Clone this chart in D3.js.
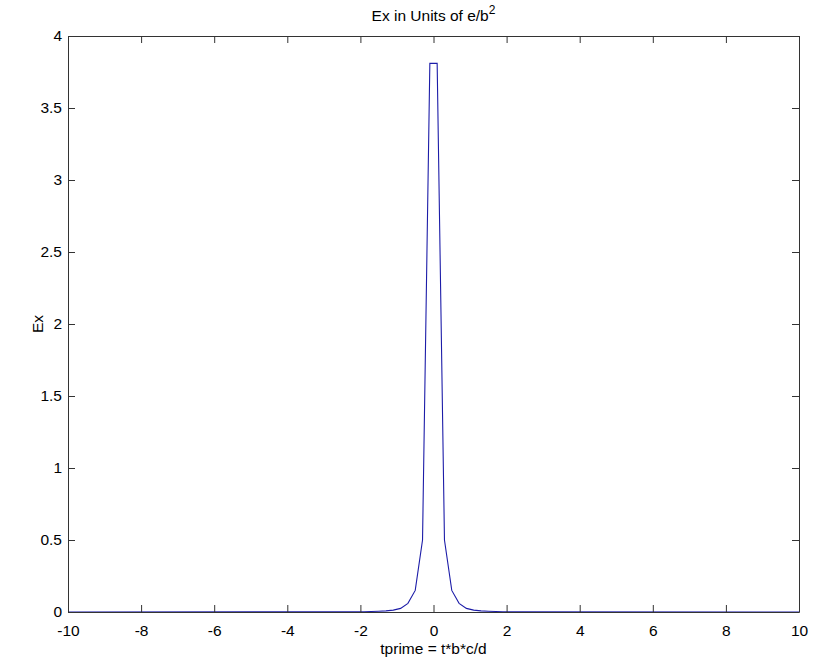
<!DOCTYPE html>
<html lang="en">
<head>
<meta charset="utf-8">
<title>Ex</title>
<script src="https://d3js.org/d3.v7.min.js"></script>
<style>
  body { margin: 0; background: #fff; }
  text { font-family: "Liberation Sans", Arial, sans-serif; fill: #000; }
</style>
</head>
<body>
<svg width="819" height="659"></svg>
<script>
    // values
    var tprime = [-10, -1.9, -1.7, -1.5, -1.3, -1.1, -0.9, -0.7, -0.5, -0.3, -0.1,
                  0.1, 0.3, 0.5, 0.7, 0.9, 1.1, 1.3, 1.5, 1.7, 1.9, 10];
    var ex = [0, 0.002, 0.003, 0.005, 0.008, 0.013, 0.025, 0.06, 0.15, 0.5, 3.81,
              3.81, 0.5, 0.15, 0.06, 0.025, 0.013, 0.008, 0.005, 0.003, 0.002, 0];
    var xTicks = [-10, -8, -6, -4, -2, 0, 2, 4, 6, 8, 10];
    var yTicks = [0, 0.5, 1, 1.5, 2, 2.5, 3, 3.5, 4];

    var marge = {top: 36, bottom: 47, left: 68, right: 20};
    var svg = d3.select("svg");
    var width = +svg.attr("width");
    var height = +svg.attr("height");
    var w = width - marge.left - marge.right;
    var h = height - marge.top - marge.bottom;
    var tickLen = 7;
    var fs = 15.5;

    var g = svg.append("g")
        .attr("transform", "translate(" + marge.left + "," + marge.top + ")");

    var xScale = d3.scaleLinear().domain([-10, 10]).range([0, w]);
    var yScale = d3.scaleLinear().domain([0, 4]).range([h, 0]);

    // the curve
    var line = d3.line()
        .x(function(d, i) { return xScale(tprime[i]); })
        .y(function(d) { return yScale(d); });
    g.append("path")
        .datum(ex)
        .attr("d", line)
        .attr("fill", "none")
        .attr("stroke", "#1c1ca8")
        .attr("stroke-width", 1.1);

    // plain hyphen for the minus sign, like matlab
    var fmt = function(d) { return String(d); };

    // axes, matlab style: ticks inside, box all round
    var xAxis = d3.axisBottom(xScale).tickValues(xTicks).tickSizeInner(-tickLen).tickSizeOuter(0).tickFormat(fmt);
    var xTop = d3.axisTop(xScale).tickValues(xTicks).tickSizeInner(-tickLen).tickSizeOuter(0).tickFormat("");
    var yAxis = d3.axisLeft(yScale).tickValues(yTicks).tickSizeInner(-tickLen).tickSizeOuter(0).tickFormat(fmt);
    var yRight = d3.axisRight(yScale).tickValues(yTicks).tickSizeInner(-tickLen).tickSizeOuter(0).tickFormat("");

    var axes = [
        g.append("g").attr("transform", "translate(0," + h + ")").call(xAxis),
        g.append("g").call(xTop),
        g.append("g").call(yAxis),
        g.append("g").attr("transform", "translate(" + w + ",0)").call(yRight)
    ];
    axes.forEach(function(a) {
        a.selectAll("path.domain").attr("stroke", "#333");
        a.selectAll(".tick line").attr("stroke", "#333");
        a.selectAll("text").attr("font-size", fs).attr("font-family", "Liberation Sans, Arial, sans-serif").attr("fill", "#000");
    });
    axes[0].selectAll("text").attr("y", 24).attr("dy", null);
    axes[2].selectAll("text").attr("x", -6);

    // labels
    var title = svg.append("text")
        .attr("x", marge.left + w / 2)
        .attr("y", 21)
        .attr("text-anchor", "middle")
        .attr("font-size", fs);
    title.append("tspan").text("Ex in Units of e/b");
    title.append("tspan").attr("dy", -7).attr("font-size", 12).text("2");

    svg.append("text")
        .attr("x", marge.left + w / 2)
        .attr("y", 654)
        .attr("text-anchor", "middle")
        .attr("font-size", fs)
        .text("tprime = t*b*c/d");

    svg.append("text")
        .attr("transform", "translate(43," + (marge.top + h / 2) + ") rotate(-90)")
        .attr("text-anchor", "middle")
        .attr("font-size", fs)
        .text("Ex");
</script>
</body>
</html>
